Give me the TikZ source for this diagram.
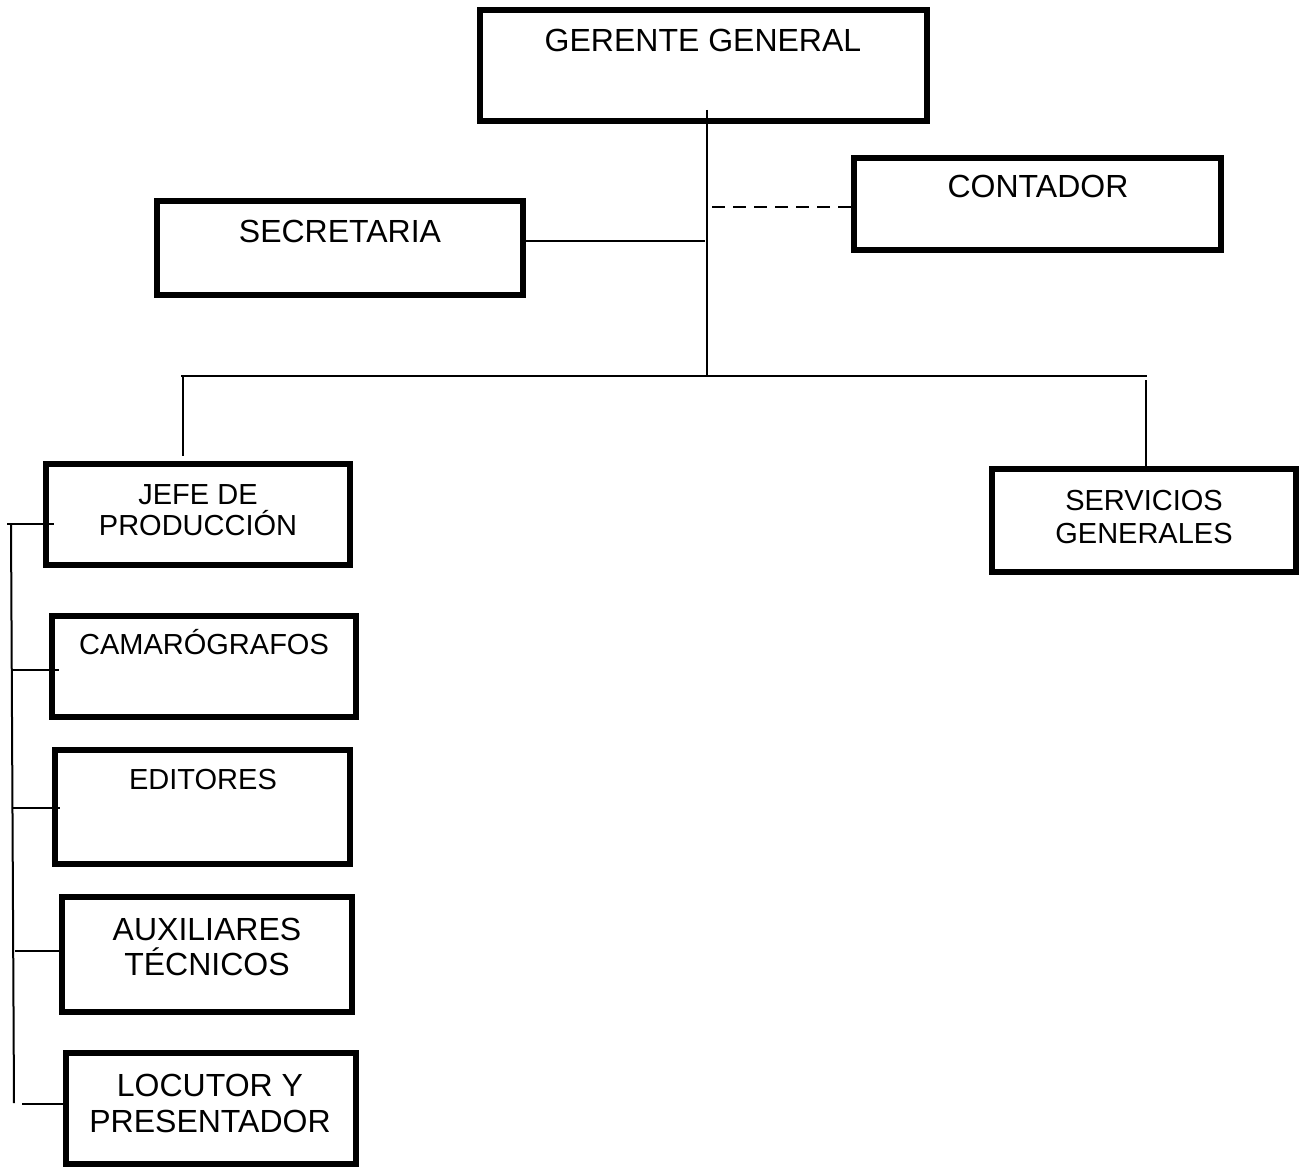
\documentclass[tikz,border=0pt]{standalone}
\usepackage{fontspec}
\setmainfont{Liberation Sans}
\usetikzlibrary{fit}
\begin{document}
\begin{tikzpicture}[x=1pt,y=-1pt,
  box/.style={draw=black, line width=6pt, rectangle, inner sep=0pt, outer sep=0pt},
  conn/.style={draw=black, line width=2pt},
  dconn/.style={draw=black, line width=2pt, dash pattern=on 13pt off 8pt},
  bigtxt/.style={anchor=base, inner sep=0pt, font=\fontsize{32}{36}\selectfont},
  smltxt/.style={anchor=base, inner sep=0pt, font=\fontsize{29}{33}\selectfont}]
\useasboundingbox[fill=white] (0,0) rectangle (1309,1169);

% boxes
\node[box, fit={(480,10) (927,121)}] (gg) {};
\node[box, fit={(157,201) (523,295)}] (sec) {};
\node[box, fit={(854,158) (1221,250)}] (con) {};
\node[box, fit={(46,464) (350,565)}] (jefe) {};
\node[box, fit={(992,469) (1296,572)}] (serv) {};
\node[box, fit={(52,616) (356,717)}] (cam) {};
\node[box, fit={(55,750) (350,864)}] (edi) {};
\node[box, fit={(62,897) (352,1012)}] (aux) {};
\node[box, fit={(66,1053) (356,1164)}] (loc) {};

% texts
\node[bigtxt] (tgg) at (703,52) {GERENTE GENERAL};
\node[bigtxt] (tsec) at (340,243) {SECRETARIA};
\node[bigtxt] (tcon) at (1038,198) {CONTADOR};
\node[smltxt] (tjefe1) at (198,504) {JEFE DE};
\node[smltxt] (tjefe2) at (198,535) {PRODUCCIÓN};
\node[smltxt] (tserv1) at (1144,510) {SERVICIOS};
\node[smltxt] (tserv2) at (1144,543) {GENERALES};
\node[smltxt] (tcam) at (204,654) {CAMARÓGRAFOS};
\node[smltxt] (tedi) at (203,789) {EDITORES};
\node[bigtxt] (taux1) at (207,940) {AUXILIARES};
\node[bigtxt] (taux2) at (207,975) {TÉCNICOS};
\node[bigtxt] (tloc1) at (210,1096) {LOCUTOR Y};
\node[bigtxt] (tloc2) at (210,1132) {PRESENTADOR};

% connector points
\coordinate (ggdrop) at (707,110);
\coordinate (hub) at (707,376);
\coordinate (secj) at (705,241);
\coordinate (conj) at (712,207);
\coordinate (conend) at (858,207);
\coordinate (busl) at (181,376);
\coordinate (busr) at (1147,376);
\coordinate (jtop) at (183,376);
\coordinate (jend) at (183,456);
\coordinate (stop) at (1146,380);
\coordinate (send) at (1146,466);
\coordinate (sp0) at (7,524);
\coordinate (spt) at (11,524);
\coordinate (spb) at (14,1103);
\coordinate (j1) at (54,524);
\coordinate (c0) at (12,670);
\coordinate (c1) at (59,670);
\coordinate (e0) at (13,808);
\coordinate (e1) at (60,808);
\coordinate (a0) at (15,951);
\coordinate (a1) at (62,951);
\coordinate (l0) at (22,1104);
\coordinate (l1) at (68,1104);

% connectors
\draw[conn] (ggdrop) -- (hub);
\draw[conn] (secj -| sec.east) -- (secj);
\draw[dconn] (conj) -- (conend);
\draw[conn] (busl) -- (busr);
\draw[conn] (jtop) -- (jend);
\draw[conn] (stop) -- (send);
\draw[conn] (spt) -- (spb);
\draw[conn] (sp0) -- (j1);
\draw[conn] (c0) -- (c1);
\draw[conn] (e0) -- (e1);
\draw[conn] (a0) -- (a1);
\draw[conn] (l0) -- (l1);
\end{tikzpicture}
\end{document}
